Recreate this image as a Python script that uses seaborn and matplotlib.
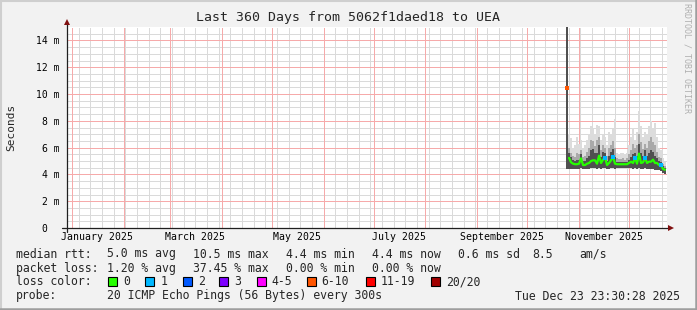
import numpy as np
import pandas as pd
import matplotlib
matplotlib.use("Agg")
import matplotlib.pyplot as plt
import matplotlib.dates as mdates
import matplotlib.transforms as mtransforms
from matplotlib.patches import Rectangle
from matplotlib.lines import Line2D
import seaborn as sns

sns.set_style("white")
plt.rcParams['font.family'] = ['DejaVu Sans Mono', 'DejaVu Sans']

# ---------------- data ----------------
title = "Last 360 Days from 5062f1daed18 to UEA"
end_time = pd.Timestamp("2025-12-23 23:30:28")
first_sample = pd.Timestamp("2025-10-25 00:00")
sample_days = 1.2

# median rtt in ms per sample
median_ms = [10.45, 5.23, 4.90, 4.80, 4.76, 4.76, 4.80, 5.20, 4.70, 4.70,
             4.80, 4.85, 5.00, 5.05, 5.05, 4.80, 5.40, 4.85, 5.10, 5.25,
             4.70, 4.85, 5.05, 5.30, 4.80, 4.76, 4.76, 4.76, 4.76, 4.76,
             4.76, 4.85, 4.95, 4.85, 5.25, 4.80, 5.55, 4.85, 4.90, 5.25,
             4.85, 4.95, 4.95, 5.10, 4.85, 4.85, 4.70, 4.70, 4.40, 4.35]
# lost pings (of 20) per sample
loss_pings = [8, 0, 0, 0, 0, 0, 0, 0, 0, 0,
              0, 0, 0, 0, 0, 0, 0, 0, 0, 1,
              0, 0, 0, 1, 0, 0, 0, 0, 0, 0,
              0, 0, 0, 0, 1, 0, 0, 0, 0, 1,
              0, 0, 0, 0, 0, 0, 0, 1, 0, 0]
# smoke (ping spread) envelopes in ms
smoke_max = [16.0, 7.0, 6.7, 6.0, 6.2, 6.8, 6.3, 6.6, 6.0, 6.2,
             6.6, 7.0, 7.6, 7.4, 7.0, 7.7, 7.6, 6.6, 7.0, 6.8,
             6.2, 7.2, 7.0, 7.4, 8.1, 5.6, 5.5, 5.6, 5.6, 5.5,
             5.6, 6.2, 6.8, 7.5, 6.6, 7.2, 8.7, 7.6, 6.8, 7.2,
             7.0, 7.6, 8.0, 7.5, 7.8, 6.8, 6.0, 5.8, 5.2, 4.9]
smoke_mid = [16.0, 6.0, 5.6, 5.4, 5.3, 5.6, 5.5, 5.8, 5.3, 5.4,
             5.7, 6.0, 6.6, 6.5, 6.1, 6.6, 6.8, 5.8, 6.2, 6.0,
             5.4, 6.0, 6.2, 6.5, 6.0, 5.2, 5.15, 5.15, 5.2, 5.1,
             5.2, 5.5, 5.8, 6.3, 6.0, 6.2, 7.0, 6.4, 5.9, 6.3,
             6.0, 6.5, 6.8, 6.4, 6.2, 5.7, 5.3, 5.2, 4.8, 4.6]
smoke_dark = [16.0, 5.6, 5.3, 5.1, 5.0, 5.1, 5.1, 5.5, 5.0, 5.0,
              5.2, 5.4, 5.8, 5.9, 5.6, 5.6, 6.2, 5.3, 5.7, 5.6,
              5.0, 5.4, 5.7, 5.9, 5.3, 4.95, 4.95, 4.95, 4.95, 4.95,
              4.95, 5.1, 5.3, 5.5, 5.6, 5.4, 6.3, 5.6, 5.4, 5.8,
              5.4, 5.6, 5.8, 5.7, 5.4, 5.2, 5.0, 4.9, 4.6, 4.5]
smoke_min = [4.40, 4.40, 4.40, 4.40, 4.40, 4.40, 4.40, 4.45, 4.40, 4.40,
             4.40, 4.40, 4.45, 4.45, 4.45, 4.40, 4.45, 4.40, 4.45, 4.45,
             4.40, 4.40, 4.45, 4.45, 4.40, 4.45, 4.45, 4.45, 4.45, 4.45,
             4.45, 4.45, 4.45, 4.40, 4.45, 4.40, 4.50, 4.40, 4.40, 4.45,
             4.40, 4.40, 4.40, 4.40, 4.35, 4.35, 4.30, 4.25, 4.10, 4.05]

y_ticks = [0, 2, 4, 6, 8, 10, 12, 14]
y_tick_labels = ["0", "2 m", "4 m", "6 m", "8 m", "10 m", "12 m", "14 m"]
x_label_months = ["2025-01", "2025-03", "2025-05", "2025-07", "2025-09", "2025-11"]
x_labels = ["January 2025", "March 2025", "May 2025", "July 2025",
            "September 2025", "November 2025"]

loss_names = ["0", "1", "2", "3", "4-5", "6-10", "11-19", "20/20"]
loss_colors = ["#26ff00", "#00b8ff", "#0059ff", "#7e00ff", "#ff00ff",
               "#ff5500", "#ff0000", "#a10000"]
loss_upper = [0, 1, 2, 3, 5, 10, 19, 20]

legend_rows = [
    [(16, "median rtt:"), (107, "5.0 ms avg"), (193, "10.5 ms max"),
     (286, "4.4 ms min"), (372, "4.4 ms now"), (458, "0.6 ms sd"),
     (532, "8.5"), (579, "am/s")],
    [(16, "packet loss:"), (107, "1.20 % avg"), (193, "37.45 % max"),
     (286, "0.00 % min"), (372, "0.00 % now")],
]
probe_text = "20 ICMP Echo Pings (56 Bytes) every 300s"
stamp_text = "Tue Dec 23 23:30:28 2025"

# ---------------- figure ----------------
W, H = 697, 310
fig = plt.figure(figsize=(W / 100, H / 100), dpi=100, facecolor="#f2f2f2")
ax = fig.add_axes([67 / W, 82 / H, 600 / W, 201 / H])
ax.set_facecolor("white")

def fx(x):
    return x / W

def fy(y):
    return 1 - y / H

t0 = end_time - pd.Timedelta(days=360)
ax.set_xlim(t0, end_time)
ax.set_ylim(0, 15)

# ---- grid (drawn manually, crisp dotted 1px lines) ----
grid_grey = "#dadada"
grid_red = "#f6aaaa"
dots = (0, (1, 1))
month_starts = pd.date_range("2025-01-01", "2025-12-01", freq="MS")
week_lines = pd.date_range(t0.normalize(), end_time, freq="W-SUN")
for d in week_lines:
    if d not in set(month_starts):
        ax.axvline(d, color=grid_grey, lw=0.72, ls=dots, antialiased=False, zorder=0.5)
for v in np.arange(0.5, 15.0, 0.5):
    if v % 2 != 0:
        ax.axhline(v, color=grid_grey, lw=0.72, ls=dots, antialiased=False, zorder=0.5)
for d in month_starts:
    ax.axvline(d, color=grid_red, lw=0.72, ls=dots, antialiased=False, zorder=0.6)
for v in y_ticks[1:]:
    ax.axhline(v, color=grid_red, lw=0.72, ls=dots, antialiased=False, zorder=0.6)

# ---- smoke ----
times = first_sample + pd.to_timedelta(np.arange(len(median_ms)) * sample_days, unit="D")
half = pd.Timedelta(days=sample_days / 2)
edges = list(times - half) + [times[-1] + half]

def ext(a):
    return list(a) + [a[-1]]

ax.fill_between(edges, ext(smoke_min), ext(smoke_max), step="post",
                color="#dcdcdc", lw=0, zorder=2)
ax.fill_between(edges, ext(smoke_min), ext(smoke_mid), step="post",
                color="#a9a9a9", lw=0, zorder=2.1)
ax.fill_between(edges, ext(smoke_min), ext(smoke_dark), step="post",
                color="#505050", lw=0, zorder=2.2)

df = pd.DataFrame({"time": times, "median": median_ms, "loss": loss_pings})
green = df[df["loss"] < 8]
sns.lineplot(data=green, x="time", y="median", ax=ax,
             color="#26ff00", lw=1.6, zorder=3, estimator=None)

def loss_color(n):
    for up, c in zip(loss_upper, loss_colors):
        if n <= up:
            return c
    return loss_colors[-1]

lossy = df[df["loss"] > 0].copy()
lossy["c"] = [loss_color(n) for n in lossy["loss"]]
sns.scatterplot(data=lossy, x="time", y="median", ax=ax, hue="c",
                palette={c: c for c in lossy["c"].unique()}, marker="s",
                s=8, linewidth=0, legend=False, zorder=4)

ax.set_xlim(t0, end_time)
ax.set_ylim(0, 15)

# ticks
ax.xaxis.set_major_locator(mdates.MonthLocator())
ax.xaxis.set_minor_locator(plt.NullLocator())
ax.xaxis.set_major_formatter(plt.NullFormatter())
ax.set_yticks(y_ticks)
ax.set_yticks(np.arange(0, 15.01, 0.5), minor=True)
ax.set_yticklabels(y_tick_labels)
ax.grid(False)
for s in ax.spines.values():
    s.set_visible(False)
ax.set_xlabel("")
ax.set_ylabel("")
ax.tick_params(axis="x", which="major", length=2.5, width=0.72,
               color="#f08a8a", direction="out")
ax.tick_params(axis="y", which="major", length=2.5, width=0.72,
               color="#202020", direction="out", pad=3, labelsize=7,
               labelcolor="black")
ax.tick_params(axis="y", which="minor", length=1.5, width=0.72,
               color="#202020", direction="out")
for lab in ax.get_yticklabels():
    lab.set_fontfamily("DejaVu Sans Mono")
    if lab.get_text() == "0":
        lab.set_transform(lab.get_transform() +
                          mtransforms.ScaledTranslation(-12 / 100, 0, fig.dpi_scale_trans))

# x labels centred mid-month
blend = mtransforms.blended_transform_factory(ax.transData, ax.transAxes)
for m, lab in zip(x_label_months, x_labels):
    pos = pd.Timestamp(m + "-01") + pd.Timedelta(days=15)
    ax.text(mdates.date2num(pos), -9.3 / 201, lab, transform=blend,
            ha="center", va="center", fontsize=7.1, color="black")

# axes lines and arrows
ax.plot([0, 0], [-4 / 201, 1 + 3 / 201], transform=ax.transAxes,
        clip_on=False, color="#202020", lw=0.9, zorder=5)
ax.plot([-5 / 600, 1 + 1 / 600], [0, 0], transform=ax.transAxes,
        clip_on=False, color="#202020", lw=0.9, zorder=5)
ax.plot([0], [1 + 5 / 201], marker="^", ms=4.2, color="#801010",
        transform=ax.transAxes, clip_on=False, zorder=6, mew=0)
ax.plot([1 + 4 / 600], [0], marker=">", ms=4.2, color="#801010",
        transform=ax.transAxes, clip_on=False, zorder=6, mew=0)

# texts
fig.text(0.5, fy(18), title, ha="center", va="center", fontsize=9.5)
fig.text(fx(11), fy(127.5), "Seconds", rotation=90, ha="center",
         va="center", fontsize=8)
fig.text(fx(687), fy(58), "RRDTOOL / TOBI OETIKER", rotation=270,
         ha="center", va="center", fontsize=6, color="#b0b0b0")

leg_fs = 8.3
for row, yy in zip(legend_rows, [254, 268.3]):
    for xx, t in row:
        fig.text(fx(xx), fy(yy), t, ha="left", va="center", fontsize=leg_fs)

fig.text(fx(16), fy(281.7), "loss color:", ha="left", va="center", fontsize=leg_fs)
box_x = [108.3, 145.3, 182.7, 219.3, 256.7, 306.7, 365.7, 430.7]
for bx, name, col in zip(box_x, loss_names, loss_colors):
    fig.patches.append(Rectangle((fx(bx), fy(286)), 9 / W, 9 / H,
                                 transform=fig.transFigure, facecolor=col,
                                 edgecolor="black", lw=0.8))
    fig.text(fx(bx + 15), fy(281.7), name, ha="left", va="center", fontsize=leg_fs)

fig.text(fx(16), fy(296), "probe:", ha="left", va="center", fontsize=leg_fs)
fig.text(fx(107), fy(296), probe_text, ha="left", va="center", fontsize=leg_fs)
fig.text(fx(680), fy(296), stamp_text, ha="right", va="center", fontsize=leg_fs)

# 3D frame
fig.lines.append(Line2D([0, 1], [1 - 1 / H, 1 - 1 / H], transform=fig.transFigure,
                        color="#cfcfcf", lw=1.5))
fig.lines.append(Line2D([1 / W, 1 / W], [0, 1], transform=fig.transFigure,
                        color="#cfcfcf", lw=1.5))
fig.lines.append(Line2D([0, 1], [1.2 / H, 1.2 / H], transform=fig.transFigure,
                        color="#9e9e9e", lw=1.8))
fig.lines.append(Line2D([1 - 1.2 / W, 1 - 1.2 / W], [0, 1], transform=fig.transFigure,
                        color="#9e9e9e", lw=1.8))

fig.savefig("out.png", dpi=100, facecolor=fig.get_facecolor())
